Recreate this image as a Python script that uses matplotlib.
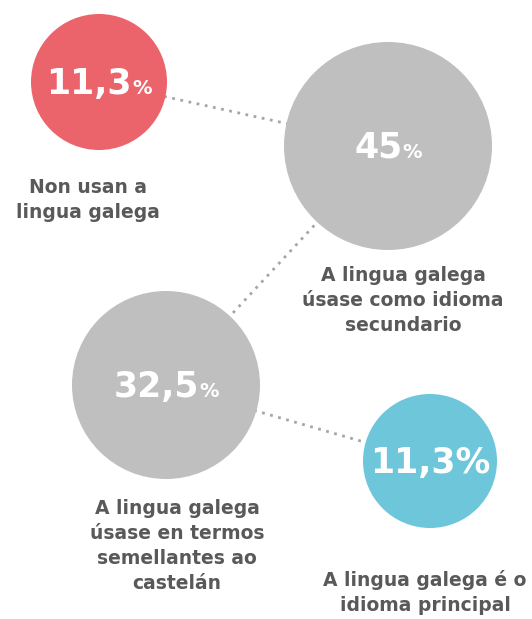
import matplotlib.pyplot as plt
from matplotlib.patches import Circle

# data
values = ['11,3', '45', '32,5', '11,3']
small_pct = [True, True, True, False]
labels = ['Non usan a\nlingua galega',
          'A lingua galega\núsase como idioma\nsecundario',
          'A lingua galega\núsase en termos\nsemellantes ao\ncastelán',
          'A lingua galega é o\nidioma principal']
colors = ['#EC646B', '#BFBFBF', '#BFBFBF', '#6DC6DA']

# layout (pixels, y down)
centers = [(99, 82), (388, 146), (166, 385), (430, 461)]
radii = [68, 104, 94, 67]
label_pos = [(88, 178), (403, 266), (177, 499), (425, 570)]
links = [(0, 1), (1, 2), (2, 3)]

fig = plt.figure(figsize=(5.32, 6.19), dpi=100)
ax = fig.add_axes([0, 0, 1, 1])
ax.set_xlim(0, 532)
ax.set_ylim(619, 0)
ax.axis('off')

for a, b in links:
    ax.plot([centers[a][0], centers[b][0]], [centers[a][1], centers[b][1]],
            color='#A6A6A6', lw=2, ls=(0, (1, 2)), zorder=1)

for (cx, cy), r, c in zip(centers, radii, colors):
    ax.add_patch(Circle((cx, cy), r, color=c, ec='none', zorder=2))

fig.canvas.draw()
rend = fig.canvas.get_renderer()
for (cx, cy), v, sp in zip(centers, values, small_pct):
    base = cy + 12
    if sp:
        t1 = ax.text(0, base, v, color='white', fontsize=25, fontweight='bold',
                     ha='left', va='baseline', zorder=3)
        t2 = ax.text(0, base, '%', color='white', fontsize=14, fontweight='bold',
                     ha='left', va='baseline', zorder=3)
        w1 = t1.get_window_extent(rend).width
        w2 = t2.get_window_extent(rend).width
        x0 = cx - (w1 + w2) / 2
        t1.set_x(x0)
        t2.set_x(x0 + w1)
    else:
        ax.text(cx, base, v + '%', color='white', fontsize=25, fontweight='bold',
                ha='center', va='baseline', zorder=3)

for (lx, ly), lab in zip(label_pos, labels):
    ax.text(lx, ly, lab, color='#595959', fontsize=13.5, fontweight='bold',
            ha='center', va='top', linespacing=1.4)

fig.savefig('out.png', dpi=100)
